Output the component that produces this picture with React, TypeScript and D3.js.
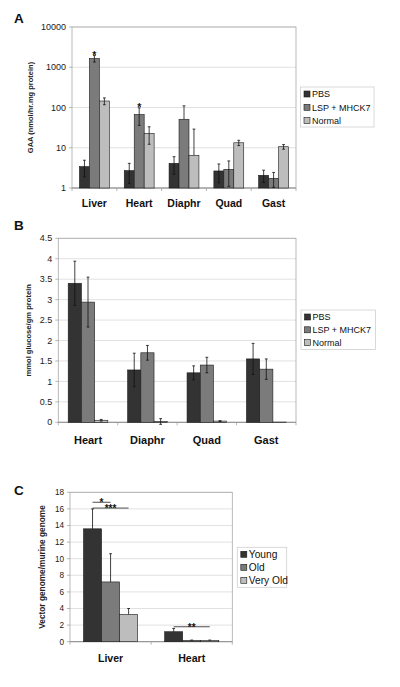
import React from "react";
import * as d3 from "d3";

// ---------- Panel A data ----------
const groupsA = ["Liver", "Heart", "Diaphr", "Quad", "Gast"];
const seriesA = ["PBS", "LSP + MHCK7", "Normal"];
const pbsA = [3.4, 2.7, 4.1, 2.65, 2.07];
const pbsErrA = [1.5, 1.4, 1.9, 1.3, 0.7];
const lspA = [1650, 67, 51, 2.9, 1.74];
const lspErrA = [300, 31, 59, 1.8, 0.7];
const normalA = [145, 22.7, 6.5, 13.3, 10.6];
const normalErrA = [28, 10.5, 22.6, 2.0, 1.4];
const ticksA = [1, 10, 100, 1000, 10000];
const starsA = [
  { group: "Liver", series: "LSP + MHCK7", label: "*" },
  { group: "Heart", series: "LSP + MHCK7", label: "*" },
];

// ---------- Panel B data ----------
const groupsB = ["Heart", "Diaphr", "Quad", "Gast"];
const seriesB = ["PBS", "LSP + MHCK7", "Normal"];
const pbsB = [3.4, 1.28, 1.21, 1.55];
const pbsErrB = [0.54, 0.41, 0.17, 0.38];
const lspB = [2.94, 1.7, 1.4, 1.3];
const lspErrB = [0.61, 0.18, 0.19, 0.25];
const normalB = [0.05, 0.02, 0.03, 0.005];
const normalErrB = [0.02, 0.07, 0.01, 0.0];
const ticksB = [0, 0.5, 1, 1.5, 2, 2.5, 3, 3.5, 4, 4.5];

// ---------- Panel C data ----------
const groupsC = ["Liver", "Heart"];
const seriesC = ["Young", "Old", "Very Old"];
const youngC = [13.6, 1.2];
const youngErrC = [2.4, 0.4];
const oldC = [7.2, 0.15];
const oldErrC = [3.4, 0.05];
const veryOldC = [3.3, 0.15];
const veryOldErrC = [0.7, 0.05];
const ticksC = [0, 2, 4, 6, 8, 10, 12, 14, 16, 18];
const sigC = [
  { group: "Liver", from: "Young", to: "Old", level: 16.8, label: "*" },
  { group: "Liver", from: "Young", to: "Very Old", level: 16.1, label: "***" },
  { group: "Heart", from: "Young", to: "Very Old", level: 1.8, label: "**" },
];

const COLORS = ["#333333", "#7b7b7b", "#bdbdbd"];
const FONT = "'Liberation Sans', Arial, sans-serif";

type Row = { group: string; series: string; value: number; err: number };

function buildRows(groups: string[], series: string[], vals: number[][], errs: number[][]): Row[] {
  const rows: Row[] = [];
  groups.forEach((g, gi) => {
    series.forEach((s, si) => {
      rows.push({ group: g, series: s, value: vals[si][gi], err: errs[si][gi] });
    });
  });
  return rows;
}

type PanelProps = {
  letter: string;
  letterY: number;
  groups: string[];
  series: string[];
  rows: Row[];
  log?: boolean;
  domain: [number, number];
  ticks: number[];
  left: number;
  right: number;
  top: number;
  bottom: number;
  yLabel: string;
  yLabelX: number;
  yLabelSize: number;
  tickSize: number;
  catSize: number;
  catY: number;
  onlyUpErr?: boolean;
  legend: { x: number; y: number; w: number; h: number; step: number; fontSize: number };
  stars?: { group: string; series: string; label: string }[];
  sig?: { group: string; from: string; to: string; level: number; label: string }[];
};

function Panel(p: PanelProps) {
  const y = p.log
    ? d3.scaleLog().domain(p.domain).range([p.bottom, p.top])
    : d3.scaleLinear().domain(p.domain).range([p.bottom, p.top]);
  const x0 = d3
    .scaleBand<string>()
    .domain(p.groups)
    .range([p.left, p.right])
    .paddingInner(1 / 3)
    .paddingOuter(1 / 6);
  const x1 = d3.scaleBand<string>().domain(p.series).range([0, x0.bandwidth()]);
  const color = d3.scaleOrdinal<string, string>().domain(p.series).range(COLORS);
  const step = x0.step();
  const boundaries = d3.range(p.groups.length + 1).map((i) => p.left + i * step);
  const cap = 1.4;
  const fmt = (t: number) => String(t);
  const yVal = (v: number) => {
    const lo = p.domain[0];
    if (p.log) return y(Math.max(v, lo));
    return y(v);
  };
  return (
    <g fontFamily={FONT}>
      <text x={14} y={p.letterY} fontSize={13.5} fontWeight="bold" fill="#111">
        {p.letter}
      </text>
      <rect x={p.left} y={p.top} width={p.right - p.left} height={p.bottom - p.top} fill="#fff" />
      {p.ticks.map((t) => (
        <line key={"g" + t} x1={p.left} x2={p.right} y1={y(t)} y2={y(t)} stroke="#d9d9d9" strokeWidth={0.8} />
      ))}
      <rect
        x={p.left}
        y={p.top}
        width={p.right - p.left}
        height={p.bottom - p.top}
        fill="none"
        stroke="#a8a8a8"
        strokeWidth={0.8}
      />
      {p.ticks.map((t) => (
        <g key={"t" + t}>
          <line x1={p.left - 3} x2={p.left} y1={y(t)} y2={y(t)} stroke="#999" strokeWidth={0.7} />
          <text x={p.left - 6} y={y(t)} dy="0.35em" textAnchor="end" fontSize={p.tickSize} fill="#1a1a1a">
            {fmt(t)}
          </text>
        </g>
      ))}
      <line x1={p.left} x2={p.right} y1={p.bottom} y2={p.bottom} stroke="#888" strokeWidth={0.8} />
      {boundaries.map((b, i) => (
        <line key={"b" + i} x1={b} x2={b} y1={p.bottom} y2={p.bottom + 3} stroke="#999" strokeWidth={0.7} />
      ))}
      {p.rows.map((r, i) => {
        const bx = (x0(r.group) as number) + (x1(r.series) as number);
        const yTop = yVal(r.value);
        return (
          <rect
            key={"r" + i}
            x={bx}
            y={yTop}
            width={x1.bandwidth()}
            height={p.bottom - yTop}
            fill={color(r.series)}
            stroke="#1a1a1a"
            strokeWidth={0.6}
          />
        );
      })}
      {p.rows.map((r, i) => {
        if (r.err <= 0) return null;
        const cx = (x0(r.group) as number) + (x1(r.series) as number) + x1.bandwidth() / 2;
        const yHi = yVal(r.value + r.err);
        const loVal = r.value - r.err;
        const showLo = !p.onlyUpErr && (!p.log || loVal > 0);
        const yLo = showLo ? (p.log ? yVal(loVal) : y(loVal)) : yVal(r.value);
        return (
          <g key={"e" + i} stroke="#111" strokeWidth={0.8}>
            <line x1={cx} x2={cx} y1={yHi} y2={yLo} />
            <line x1={cx - cap} x2={cx + cap} y1={yHi} y2={yHi} />
            {showLo && <line x1={cx - cap} x2={cx + cap} y1={yLo} y2={yLo} />}
          </g>
        );
      })}
      {(p.stars || []).map((s, i) => {
        const r = p.rows.find((rr) => rr.group === s.group && rr.series === s.series)!;
        const cx = (x0(r.group) as number) + (x1(r.series) as number) + x1.bandwidth() / 2;
        return (
          <text key={"s" + i} x={cx} y={yVal(r.value + r.err) + 3} textAnchor="middle" fontSize={10.5} fontWeight="bold" fill="#111">
            {s.label}
          </text>
        );
      })}
      {(p.sig || []).map((s, i) => {
        const xa = (x0(s.group) as number) + (x1(s.from) as number) + x1.bandwidth() / 2;
        const xb = (x0(s.group) as number) + (x1(s.to) as number) + x1.bandwidth() / 2;
        const yy = y(s.level);
        return (
          <g key={"sig" + i}>
            <line x1={xa} x2={xb} y1={yy} y2={yy} stroke="#222" strokeWidth={0.8} />
            <text x={(xa + xb) / 2} y={yy + 4} textAnchor="middle" fontSize={10} fontWeight="bold" fill="#111">
              {s.label}
            </text>
          </g>
        );
      })}
      {p.groups.map((g) => (
        <text
          key={"c" + g}
          x={(x0(g) as number) + x0.bandwidth() / 2}
          y={p.catY}
          textAnchor="middle"
          fontSize={p.catSize}
          fontWeight="bold"
          fill="#111"
        >
          {g}
        </text>
      ))}
      <text
        transform={`translate(${p.yLabelX},${(p.top + p.bottom) / 2}) rotate(-90)`}
        textAnchor="middle"
        fontSize={p.yLabelSize}
        fontWeight="bold"
        fill="#222"
      >
        {p.yLabel}
      </text>
      <g>
        <rect
          x={p.legend.x}
          y={p.legend.y}
          width={p.legend.w}
          height={p.legend.h}
          fill="#fff"
          stroke="#cfcfcf"
          strokeWidth={0.8}
        />
        {p.series.map((s, i) => {
          const cy = p.legend.y + 7 + i * p.legend.step;
          return (
            <g key={"l" + s}>
              <rect x={p.legend.x + 3.5} y={cy - 3} width={6} height={6} fill={color(s)} stroke="#1a1a1a" strokeWidth={0.6} />
              <text x={p.legend.x + 11.5} y={cy} dy="0.36em" fontSize={p.legend.fontSize} fill="#111">
                {s}
              </text>
            </g>
          );
        })}
      </g>
    </g>
  );
}

export default function App() {
  const rowsA = buildRows(groupsA, seriesA, [pbsA, lspA, normalA], [pbsErrA, lspErrA, normalErrA]);
  const rowsB = buildRows(groupsB, seriesB, [pbsB, lspB, normalB], [pbsErrB, lspErrB, normalErrB]);
  const rowsC = buildRows(groupsC, seriesC, [youngC, oldC, veryOldC], [youngErrC, oldErrC, veryOldErrC]);
  return (
    <svg width={400} height={687} style={{ position: "absolute", left: 0, top: 0, background: "#fff" }}>
      <rect x={0} y={0} width={400} height={687} fill="#fff" />
      <Panel
        letter="A"
        letterY={23}
        groups={groupsA}
        series={seriesA}
        rows={rowsA}
        log
        domain={[1, 10000]}
        ticks={ticksA}
        left={72}
        right={296}
        top={27}
        bottom={188}
        yLabel="GAA (nmol/hr.mg protein)"
        yLabelX={33}
        yLabelSize={7.5}
        tickSize={9}
        catSize={10.5}
        catY={207}
        legend={{ x: 300.5, y: 87, w: 73.5, h: 40, step: 13.3, fontSize: 9 }}
        stars={starsA}
      />
      <Panel
        letter="B"
        letterY={230}
        groups={groupsB}
        series={seriesB}
        rows={rowsB}
        domain={[0, 4.5]}
        ticks={ticksB}
        left={58.3}
        right={296}
        top={238.3}
        bottom={422.3}
        yLabel="mmol glucose/gm protein"
        yLabelX={31}
        yLabelSize={7.6}
        tickSize={9}
        catSize={11}
        catY={443.5}
        legend={{ x: 301, y: 310, w: 74.5, h: 39.5, step: 12.8, fontSize: 9 }}
      />
      <Panel
        letter="C"
        letterY={495}
        groups={groupsC}
        series={seriesC}
        rows={rowsC}
        domain={[0, 18]}
        ticks={ticksC}
        left={70}
        right={232.3}
        top={492.3}
        bottom={641.7}
        yLabel="Vector genome/murine genome"
        yLabelX={45}
        yLabelSize={8.3}
        tickSize={8.2}
        catSize={10.6}
        catY={661.5}
        onlyUpErr
        legend={{ x: 237.3, y: 547.3, w: 49.4, h: 40, step: 13, fontSize: 10.2 }}
        sig={sigC}
      />
    </svg>
  );
}
